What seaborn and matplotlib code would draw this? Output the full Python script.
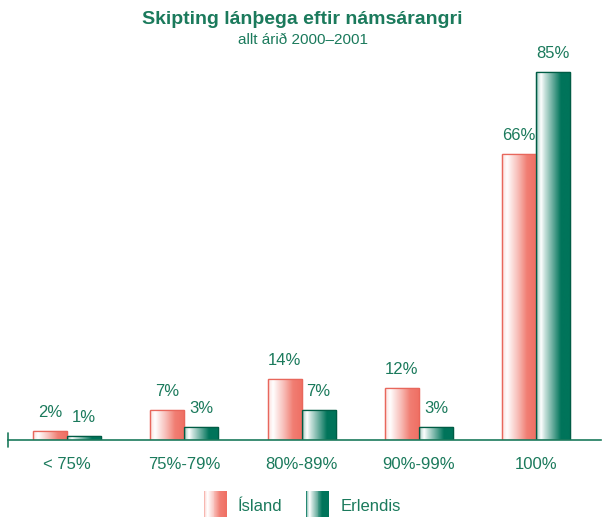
import numpy as np
import pandas as pd
import matplotlib
matplotlib.use("Agg")
import matplotlib.pyplot as plt
import seaborn as sns
from matplotlib.colors import to_rgb
from matplotlib.legend_handler import HandlerBase
from matplotlib.patches import Rectangle, Patch

# data
categories = ["< 75%", "75%-79%", "80%-89%", "90%-99%", "100%"]
island = [2, 7, 14, 12, 66]
erlendis = [1, 3, 7, 3, 85]
series = ["Ísland", "Erlendis"]

title = "Skipting lánþega eftir námsárangri"
subtitle = "allt árið 2000–2001"

RED = "#ef6f63"
GREEN = "#00745a"
TEXT = "#1b7a5c"

# whiteness profile across a bar (0 = full colour, 1 = white)
prof_x = [0.0, 0.05, 0.14, 0.24, 0.45, 0.72, 1.0]
prof_red = [0.5, 0.85, 1.0, 0.85, 0.55, 0.1, 0.0]
prof_green = [0.15, 0.75, 1.0, 0.8, 0.45, 0.0, 0.0]


def gradient_colors(color, prof, n=60):
    base = np.array(to_rgb(color))
    t = np.interp(np.linspace(0, 1, n), prof_x, prof)
    return base[None, :] * (1 - t[:, None]) + t[:, None]


df = pd.DataFrame({
    "cat": categories * 2,
    "val": island + erlendis,
    "series": [series[0]] * len(categories) + [series[1]] * len(categories),
})

sns.set_theme(style="white")
plt.rcParams["font.family"] = ["Liberation Sans", "DejaVu Sans"]

fig = plt.figure(figsize=(6.05, 5.17), dpi=100)
ax = fig.add_axes([0.013, 0.149, 0.98, 0.731])

sns.barplot(data=df, x="cat", y="val", hue="series", order=categories,
            hue_order=series, palette=[RED, GREEN], width=0.58,
            legend=False, ax=ax)

edge = {0: "#e8675c", 1: "#005c45"}
profs = {0: (RED, prof_red), 1: (GREEN, prof_green)}
n = len(categories)
for i, p in enumerate(ax.patches[:2 * n]):
    k = i // n
    col, prof = profs[k]
    x0, w, h = p.get_x(), p.get_width(), p.get_height()
    img = gradient_colors(col, prof)[None, :, :]
    im = ax.imshow(img, extent=[x0, x0 + w, 0, h], aspect="auto",
                   interpolation="bilinear", zorder=p.get_zorder() + 0.1)
    im.set_clip_path(p)
    p.set_edgecolor(edge[k])
    p.set_linewidth(0.9)
    ax.add_patch(Rectangle((x0, 0), w, h, fill=False, edgecolor=edge[k],
                           linewidth=0.9, zorder=p.get_zorder() + 0.2))
    ax.annotate(f"{int(round(h))}%", (x0 + w / 2, h), xytext=(0, 8),
                textcoords="offset points", ha="center", va="bottom",
                fontsize=12, color=TEXT)

xmin = -0.505
ax.set_xlim(xmin, 4.55)
ax.set_ylim(0, 87.3)
ax.set_xlabel("")
ax.set_ylabel("")
for s in ["top", "right", "left"]:
    ax.spines[s].set_visible(False)
ax.spines["bottom"].set_color(TEXT)
ax.spines["bottom"].set_linewidth(1.2)
ax.set_yticks([])
ax.axvline(xmin, ymin=-0.018, ymax=0.018, color=TEXT, linewidth=1.2,
           clip_on=False)
ax.tick_params(axis="x", length=0, pad=12, labelsize=12, labelcolor=TEXT)

fig.text(0.5, 0.962, title, ha="center", va="center", fontsize=14,
         fontweight="bold", color=TEXT)
fig.text(0.5, 0.922, subtitle, ha="center", va="center", fontsize=11,
         color=TEXT)


class GradientHandler(HandlerBase):
    def __init__(self, color, prof):
        super().__init__()
        self.color, self.prof = color, prof

    def create_artists(self, legend, orig_handle, xdescent, ydescent,
                       width, height, fontsize, trans):
        cols = gradient_colors(self.color, self.prof, 24)
        m = len(cols)
        arts = []
        for j, c in enumerate(cols):
            r = Rectangle((-xdescent + j * width / m, -ydescent - 4),
                          width / m + 0.3, height + 8, facecolor=c,
                          edgecolor="none", transform=trans)
            arts.append(r)
        return arts


h1 = Patch(label=series[0])
h2 = Patch(label=series[1])
fig.legend(handles=[h1, h2], loc="center", bbox_to_anchor=(0.5, 0.022),
           ncol=2, frameon=False, fontsize=12, labelcolor=TEXT,
           handlelength=1.35, handleheight=1.2, columnspacing=1.4,
           handletextpad=0.7,
           handler_map={h1: GradientHandler(RED, prof_red),
                        h2: GradientHandler(GREEN, prof_green)})

fig.savefig("out.png", dpi=100)
